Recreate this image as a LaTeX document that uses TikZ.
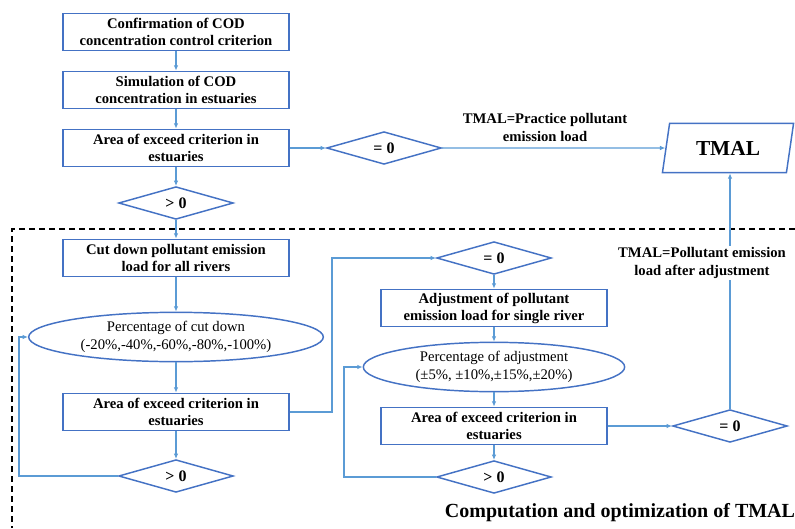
\documentclass[tikz,border=0pt]{standalone}
\usepackage{fontspec}
\setmainfont{Liberation Serif}
\usetikzlibrary{shapes.geometric,arrows.meta}
\definecolor{boxblue}{HTML}{4472C4}
\definecolor{lineblue}{HTML}{5B9BD5}

\begin{document}
\begin{tikzpicture}[x=0.75pt,y=-0.75pt,
  stepbox/.style={draw=boxblue,line width=1.1pt,minimum width=169.5pt,minimum height=28pt,
    align=center,inner sep=1pt,font=\fontsize{11}{12.8}\selectfont\bfseries},
  testbox/.style={draw=boxblue,line width=1.1pt,diamond,minimum width=86pt,minimum height=24.5pt,
    inner sep=0pt,font=\fontsize{12}{13}\selectfont\bfseries},
  ratebox/.style={draw=boxblue,line width=1.1pt,ellipse,inner sep=0pt,align=center,
    font=\fontsize{11}{13.5}\selectfont},
  flow/.style={draw=lineblue,line width=0.8pt,-{Latex[length=4pt,width=3.5pt]}},
  note/.style={align=center,inner sep=1pt,font=\fontsize{11}{13.5}\selectfont\bfseries}]
\useasboundingbox (0,0) rectangle (795,528);
\draw [dashed,line width=0.9pt,dash pattern=on 4.5pt off 3pt] (795,229) -| (12,528);
\node [stepbox] (conf) at (176,32) {Confirmation of COD\\concentration control criterion};
\node [stepbox] (sim) at (176,90) {Simulation of COD\\concentration in estuaries};
\node [stepbox] (area1) at (176,148) {Area of exceed criterion in\\estuaries};
\node [testbox] (gt1) at (176,203) {> 0};
\node [testbox] (eq1) at (384,148) {= 0};
\node [draw=boxblue,line width=1.1pt,trapezium,trapezium left angle=79,trapezium right angle=101,
  trapezium stretches=true,minimum width=99pt,minimum height=37pt,
  font=\fontsize{16}{18}\selectfont\bfseries] (tmal) at (728,148) {TMAL};
\node [stepbox] (cut) at (176,258) {Cut down pollutant emission\\load for all rivers};
\node [ratebox,minimum width=221pt,minimum height=37pt] (ell1) at (176,337)
  {Percentage of cut down\\(-20\%,-40\%,-60\%,-80\%,-100\%)};
\node [stepbox] (area2) at (176,412) {Area of exceed criterion in\\estuaries};
\node [testbox] (gt2) at (176,476) {> 0};
\node [testbox] (eq2) at (494,258) {= 0};
\node [stepbox] (adj) at (494,308) {Adjustment of pollutant\\emission load for single river};
\node [ratebox,minimum width=196pt,minimum height=37pt] (ell2) at (494,367)
  {Percentage of adjustment\\(±5\%, ±10\%,±15\%,±20\%)};
\node [stepbox] (area3) at (494,426) {Area of exceed criterion in\\estuaries};
\node [testbox] (gt3) at (494,477) {> 0};
\node [testbox] (eq3) at (730,426) {= 0};
\coordinate (loopA) at (19,0);
\coordinate (bendB) at (332,0);
\coordinate (loopC) at (344,0);
\draw [flow] (conf) -- (sim);
\draw [flow] (sim) -- (area1);
\draw [flow] (area1) -- (gt1);
\draw [flow] (area1) -- (eq1);
\draw [flow] (eq1) -- (tmal.west);
\draw [flow] (gt1) -- (cut);
\draw [flow] (cut) -- (ell1);
\draw [flow] (ell1) -- (area2);
\draw [flow] (area2) -- (gt2);
\draw [flow] (gt2.west) -- (gt2.west -| loopA) |- (ell1.west);
\draw [flow] (area2.east) -- (area2.east -| bendB) |- (eq2.west);
\draw [flow] (eq2) -- (adj);
\draw [flow] (adj) -- (ell2);
\draw [flow] (ell2) -- (area3);
\draw [flow] (area3) -- (gt3);
\draw [flow] (gt3.west) -- (gt3.west -| loopC) |- (ell2.west);
\draw [flow] (area3) -- (eq3);
\draw [flow] (eq3.north) -- (eq3.north |- tmal.south);
\node [note] (practice) at (545,127) {TMAL=Practice pollutant\\emission load};
\node [note,fill=white] (adjusted) at (702,263) {TMAL=Pollutant emission\\load after adjustment};
\node [font=\fontsize{15}{18}\selectfont\bfseries] (title) at (620,513) {Computation and optimization of TMAL};
\end{tikzpicture}
\end{document}
